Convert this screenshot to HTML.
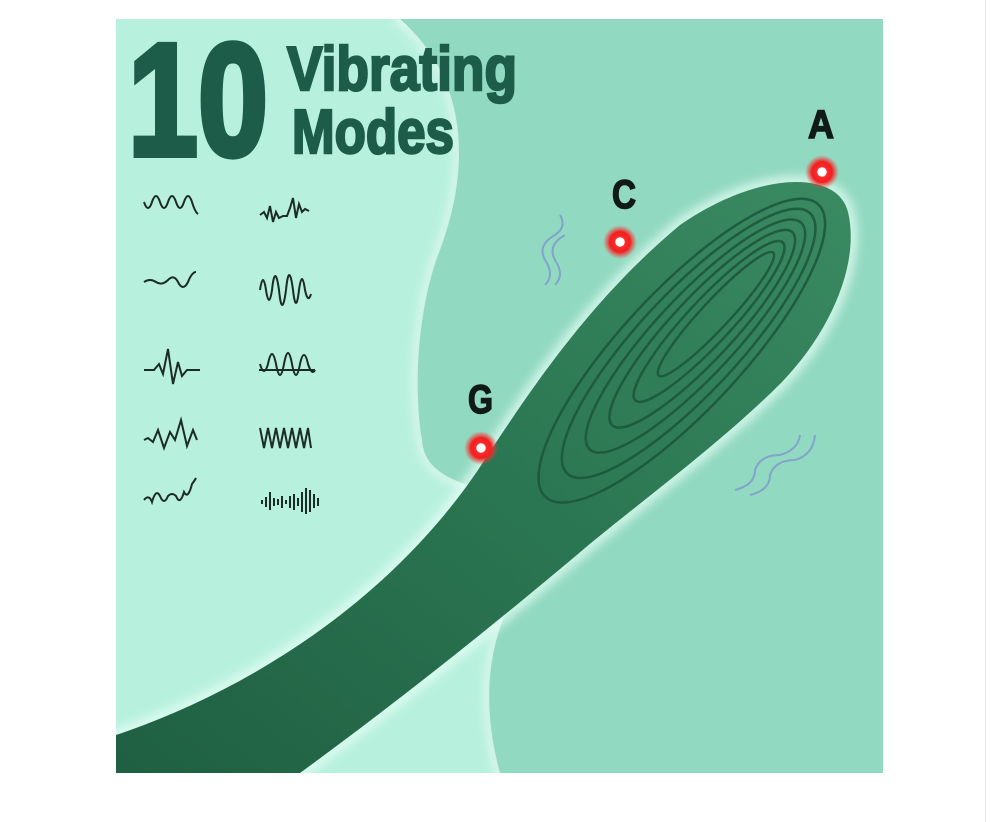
<!DOCTYPE html>
<html><head><meta charset="utf-8"><style>
html,body{margin:0;padding:0;background:#fff;width:990px;height:822px;overflow:hidden}
svg{display:block}
</style></head><body>
<svg width="990" height="822" viewBox="0 0 990 822" xmlns="http://www.w3.org/2000/svg">
<defs>
<clipPath id="c"><rect x="116" y="19" width="767" height="754"/></clipPath>
<radialGradient id="dot"><stop offset="0" stop-color="#fff"/><stop offset="0.25" stop-color="#fff"/><stop offset="0.3" stop-color="#ff2a2a"/><stop offset="0.6" stop-color="#f02020"/><stop offset="1" stop-color="#ff4040" stop-opacity="0"/></radialGradient>
<linearGradient id="dev" x1="0" y1="1" x2="1" y2="0"><stop offset="0" stop-color="#1f5f42"/><stop offset="0.6" stop-color="#2d7a55"/><stop offset="1" stop-color="#3a8a62"/></linearGradient>
<filter id="blur"><feGaussianBlur stdDeviation="5"/></filter>
</defs>
<rect x="985" y="0" width="1" height="822" fill="#e5e5e5"/>
<g clip-path="url(#c)">
<rect x="116" y="19" width="767" height="754" fill="#b8f0de"/>
<path d="M400,19 L883,19 L883,773 L500,773 C480,700 485,620 540,560 L520,500 C470,485 425,480 422,440 C412,380 420,300 440,250 C470,170 470,80 400,19 Z" fill="#92d9c1" stroke="#f4fffb" stroke-width="6" filter="url(#blur)"/>
<path d="M400,19 L883,19 L883,773 L500,773 C480,700 485,620 540,560 L520,500 C470,485 425,480 422,440 C412,380 420,300 440,250 C470,170 470,80 400,19 Z" fill="#92d9c1"/>
<!-- device glow -->
<path d="M116,735 C250,690 390,600 478,470 C530,390 590,300 680,225 C760,170 838,170 848,212 C860,262 832,330 782,382 C720,444 640,502 585,548 C500,620 400,700 300,773 L116,773Z" fill="none" stroke="#e6fff6" stroke-width="12" opacity="0.8" filter="url(#blur)"/>
<!-- device -->
<path d="M116,735 C250,690 390,600 478,470 C530,390 590,300 680,225 C760,170 838,170 848,212 C860,262 832,330 782,382 C720,444 640,502 585,548 C500,620 400,700 300,773 L116,773Z" fill="url(#dev)"/>
<g transform="translate(675,358) rotate(-47)">
<g fill="none" stroke="#1c553a" stroke-width="2.5" opacity="0.85">
<ellipse cx="10" cy="0" rx="200" ry="60"/>
<ellipse cx="20" cy="0" rx="178" ry="50"/>
<ellipse cx="30" cy="0" rx="155" ry="40"/>
<ellipse cx="40" cy="0" rx="132" ry="31"/>
<ellipse cx="50" cy="0" rx="108" ry="22"/>
<ellipse cx="60" cy="0" rx="84" ry="14"/>
</g>
</g>
</g>
<!-- title -->
<g fill="#1d5c48" stroke="#1d5c48" font-family="Liberation Sans, sans-serif" font-weight="bold">
<text x="128" y="155" font-size="160" stroke-width="6" textLength="140" lengthAdjust="spacingAndGlyphs">10</text>
<text x="287" y="90" font-size="62" stroke-width="2.5" textLength="230" lengthAdjust="spacingAndGlyphs">Vibrating</text>
<text x="292" y="153" font-size="62" stroke-width="2.5" textLength="162" lengthAdjust="spacingAndGlyphs">Modes</text>
</g>
<!-- waves -->
<g fill="none" stroke="#1b2b25" stroke-width="2">
<path d="M144,202 q4,12 8,0 q4,-12 8,0 q4,12 8,0 q4,-12 8,0 q4,12 8,0 q4,-12 8,0 q3,10 6,12"/>
<path d="M260,215 l4,-3 l3,6 l3,-12 l3,16 l3,-10 l3,6 l4,-2 l4,0 l3,-8 l3,-10 l3,20 l3,-14 l3,8 l3,-3 l4,2"/>
<path d="M144,282 q6,-4 12,0 q6,4 12,-2 q6,-6 10,2 q5,10 10,0 q4,-10 8,-10"/>
<path d="M260,290 q3,-20 6,0 q3,20 6,0 q3,-28 7,0 q3,30 7,0 q3,-30 7,0 q3,26 6,0 q3,-22 6,0 q3,14 6,4"/>
<path d="M144,370 l10,0 l5,-6 l4,10 l5,-25 l5,35 l5,-22 l4,14 l5,-6 l13,0"/>
<path d="M259,370 l56,0 M260,364 q4,14 8,0 q4,-20 8,0 q4,22 8,0 q4,-22 8,0 q4,22 8,0 q4,-18 8,0 q4,12 7,6"/>
<path d="M144,440 l4,-2 l5,4 l5,-12 l6,18 l6,-16 l5,8 l6,-20 l6,26 l6,-16 l4,10"/>
<path d="M260,428 l4,20 l4,-20 l4,20 l4,-20 l4,20 l4,-20 l4,20 l4,-20 l4,20 l4,-20 l4,20 l4,-20 l3,20"/>
<path d="M144,500 q5,-6 8,2 q4,-14 8,-6 q4,10 8,0 q4,-4 8,0 q4,10 8,-4 q4,8 8,-8 q3,-4 4,-6"/>
</g>
<g stroke="#1b2b25" stroke-width="2">
<path d="M262,500v4M266,497v10M270,492v18M274,498v8M278,499v6M282,496v12M286,500v4M290,496v12M294,494v16M298,498v8M302,492v20M306,488v26M310,490v22M314,494v14M318,498v8"/>
</g>
<!-- squiggle lines -->
<g fill="none" stroke="#7a8fd0" stroke-width="2" opacity="0.7">
<path d="M545,285 q10,-10 0,-25 q-8,-15 10,-25 q12,-8 5,-20"/>
<path d="M555,285 q10,-10 0,-25 q-8,-15 10,-25"/>
<path d="M735,490 q20,-5 20,-20 q5,-15 25,-15 q18,-5 20,-20"/>
<path d="M750,495 q20,-5 20,-20 q5,-15 25,-15 q18,-5 20,-25"/>
</g>
<!-- dots -->
<circle cx="822" cy="172" r="17" fill="url(#dot)"/>
<circle cx="620" cy="242" r="17" fill="url(#dot)"/>
<circle cx="481" cy="448" r="17" fill="url(#dot)"/>
<g fill="#101a16" stroke="#101a16" stroke-width="1.5" font-family="Liberation Sans, sans-serif" font-weight="bold" font-size="40">
<text x="808" y="138" textLength="26" lengthAdjust="spacingAndGlyphs">A</text>
<text x="612" y="208" textLength="24" lengthAdjust="spacingAndGlyphs">C</text>
<text x="468" y="413" textLength="25" lengthAdjust="spacingAndGlyphs">G</text>
</g>
</svg>
</body></html>
